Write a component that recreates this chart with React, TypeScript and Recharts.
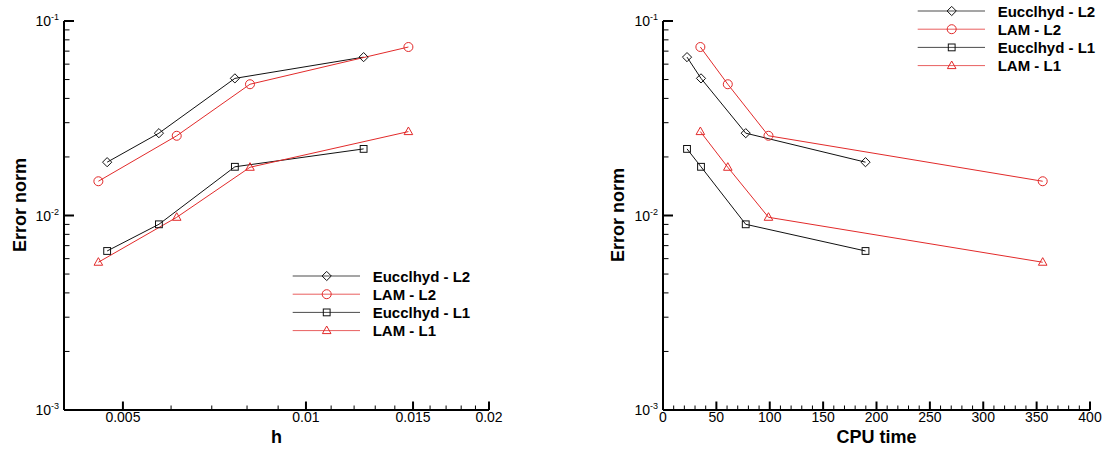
import React from 'react';
import { LineChart, Line, XAxis, YAxis, Legend } from 'recharts';

// Mesh sizes (coarse -> fine)
const hEucclhyd = [0.01244, 0.00764, 0.00573, 0.00471];
const hLAM = [0.01474, 0.00809, 0.00613, 0.004556];
// CPU time (coarse -> fine)
const cpuEucclhyd = [22.5, 35.6, 77.5, 189.7];
const cpuLAM = [35.0, 60.7, 98.8, 355.7];
// Error norms (coarse -> fine)
const eucclhydL2 = [0.0652, 0.0507, 0.0265, 0.0188];
const lamL2 = [0.0735, 0.0473, 0.0257, 0.015];
const eucclhydL1 = [0.022, 0.0178, 0.00901, 0.00657];
const lamL1 = [0.027, 0.0177, 0.00979, 0.00575];

const seriesNames = ['Eucclhyd - L2', 'LAM - L2', 'Eucclhyd - L1', 'LAM - L1'];
const seriesShapes = ['diamond', 'circle', 'square', 'triangle'];
const BLACK = '#111111';
const RED = '#e22a2a';
const seriesColors = [BLACK, RED, BLACK, RED];

const hMajorTicks = [0.005, 0.01, 0.015, 0.02];
const hMajorLabels = ['0.005', '0.01', '0.015', '0.02'];
const hMinorTicks = [0.006, 0.007, 0.008, 0.009, 0.011, 0.012, 0.013, 0.014, 0.016, 0.017, 0.018, 0.019];

const cpuMajorTicks = [0, 50, 100, 150, 200, 250, 300, 350, 400];
const cpuMajorLabels = ['0', '50', '100', '150', '200', '250', '300', '350', '400'];
const cpuMinorTicks = [10, 20, 30, 40, 60, 70, 80, 90, 110, 120, 130, 140, 160, 170, 180, 190, 210, 220, 230, 240, 260, 270, 280, 290, 310, 320, 330, 340, 360, 370, 380, 390];

const errMajorTicks = [0.001, 0.01, 0.1];
const errMajorExponents = ['-3', '-2', '-1'];
const errMinorTicks = [0.002, 0.003, 0.004, 0.005, 0.006, 0.007, 0.008, 0.009, 0.02, 0.03, 0.04, 0.05, 0.06, 0.07, 0.08, 0.09];

const FONT = '"Liberation Sans", Arial, Helvetica, sans-serif';

const toRows = (xs: number[], ys: number[]) => xs.map((x, i) => ({ x, y: ys[i] }));

const findIdx = (arr: number[], v: number) =>
  arr.findIndex((t) => Math.abs(t - v) <= Math.max(Math.abs(t), 1e-9) * 1e-6);

const Marker = ({ shape, cx, cy, color }: any) => {
  if (cx == null || cy == null) return null;
  const common = { fill: 'none', stroke: color, strokeWidth: 1 };
  if (shape === 'diamond') {
    const r = 4.6;
    return <polygon points={`${cx},${cy - r} ${cx + r},${cy} ${cx},${cy + r} ${cx - r},${cy}`} {...common} />;
  }
  if (shape === 'circle') return <circle cx={cx} cy={cy} r={4.5} {...common} />;
  if (shape === 'square') {
    const r = 3.4;
    return <rect x={cx - r} y={cy - r} width={2 * r} height={2 * r} {...common} />;
  }
  return <polygon points={`${cx},${cy - 4.6} ${cx + 4.3},${cy + 3} ${cx - 4.3},${cy + 3}`} {...common} />;
};

const makeDot = (shape: string, color: string) => (p: any) => (
  <Marker key={`dot-${shape}-${p.index}`} shape={shape} cx={p.cx} cy={p.cy} color={color} />
);

const YTick = (props: any) => {
  const { x, y, payload } = props;
  const idx = findIdx(errMajorTicks, payload.value);
  const major = idx >= 0;
  return (
    <g>
      <line x1={x} x2={x + (major ? 10 : 5.5)} y1={y} y2={y} stroke="#000" strokeWidth={major ? 2 : 1} />
      {major && (
        <text x={x - 5} y={y + 5} textAnchor="end" fontSize={14} fill="#000" fontFamily={FONT}>
          10
          <tspan dy={-6} fontSize={9}>{errMajorExponents[idx]}</tspan>
        </text>
      )}
    </g>
  );
};

const makeXTick = (majors: number[], labels: string[]) => (props: any) => {
  const { x, y, payload } = props;
  const idx = findIdx(majors, payload.value);
  const major = idx >= 0;
  return (
    <g>
      <line x1={x} x2={x} y1={y} y2={y - (major ? 8.5 : 4.5)} stroke="#000" strokeWidth={major ? 2 : 1} />
      {major && (
        <text x={x} y={y + 12} textAnchor="middle" fontSize={14} fill="#000" fontFamily={FONT}>
          {labels[idx]}
        </text>
      )}
    </g>
  );
};

const AxisTitle = ({ text, cx, cy, rotate }: any) => (
  <text
    transform={`translate(${cx},${cy})${rotate ? ' rotate(-90)' : ''}`}
    textAnchor="middle"
    dy="0.35em"
    fontSize={18}
    fontWeight="bold"
    fill="#000"
    fontFamily={FONT}
  >
    {text}
  </text>
);

const LegendBox = () => (
  <svg width={210} height={80} style={{ overflow: 'visible', display: 'block' }}>
    {seriesNames.map((name, i) => {
      const y = 10 + i * 18.2;
      return (
        <g key={name}>
          <line x1={7.7} x2={75} y1={y} y2={y} stroke={seriesColors[i]} strokeWidth={1} opacity={0.75} />
          <Marker shape={seriesShapes[i]} cx={41.7} cy={y} color={seriesColors[i]} />
          <text x={87.7} y={y + 5.5} fontSize={15} fontWeight="bold" fill="#000" fontFamily={FONT}>
            {name}
          </text>
        </g>
      );
    })}
  </svg>
);

const axisLineStyle = { stroke: '#000', strokeWidth: 2 };

const leftSeries = [
  toRows(hEucclhyd, eucclhydL2),
  toRows(hLAM, lamL2),
  toRows(hEucclhyd, eucclhydL1),
  toRows(hLAM, lamL1),
];
const rightSeries = [
  toRows(cpuEucclhyd, eucclhydL2),
  toRows(cpuLAM, lamL2),
  toRows(cpuEucclhyd, eucclhydL1),
  toRows(cpuLAM, lamL1),
];

const renderLines = (sets: any[]) =>
  sets.map((data, i) => (
    <Line
      key={seriesNames[i]}
      name={seriesNames[i]}
      data={data}
      dataKey="y"
      type="linear"
      stroke={seriesColors[i]}
      strokeWidth={1}
      dot={makeDot(seriesShapes[i], seriesColors[i])}
      activeDot={false}
      isAnimationActive={false}
    />
  ));

export default function App() {
  return (
    <div
      style={{
        position: 'absolute',
        left: 0,
        top: 0,
        width: 1106,
        height: 450,
        background: '#fff',
        fontFamily: FONT,
      }}
    >
      <div style={{ position: 'absolute', left: 0, top: 0 }}>
        <LineChart width={553} height={450} margin={{ top: 21, right: 64, bottom: 0, left: 0 }}>
          <XAxis
            type="number"
            dataKey="x"
            scale="log"
            domain={[0.004, 0.02]}
            allowDataOverflow
            ticks={[...hMajorTicks, ...hMinorTicks]}
            interval={0}
            tickSize={0}
            tickMargin={0}
            height={40}
            axisLine={axisLineStyle}
            tickLine={false}
            tick={makeXTick(hMajorTicks, hMajorLabels)}
            label={<AxisTitle text="h" cx={276.5} cy={437} />}
          />
          <YAxis
            type="number"
            scale="log"
            domain={[0.001, 0.1]}
            allowDataOverflow
            ticks={[...errMajorTicks, ...errMinorTicks]}
            interval={0}
            tickSize={0}
            tickMargin={0}
            width={64}
            axisLine={axisLineStyle}
            tickLine={false}
            tick={YTick}
            label={<AxisTitle text="Error norm" cx={19.5} cy={205} rotate />}
          />
          {renderLines(leftSeries)}
          <Legend
            content={() => <LegendBox />}
            layout="horizontal"
            verticalAlign="middle"
            align="center"
            wrapperStyle={{ left: 285, top: 266, width: 210 }}
          />
        </LineChart>
      </div>
      <div style={{ position: 'absolute', left: 553, top: 0 }}>
        <LineChart width={553} height={450} margin={{ top: 21, right: 16, bottom: 0, left: 0 }}>
          <XAxis
            type="number"
            dataKey="x"
            domain={[0, 400]}
            allowDataOverflow
            ticks={[...cpuMajorTicks, ...cpuMinorTicks]}
            interval={0}
            tickSize={0}
            tickMargin={0}
            height={40}
            axisLine={axisLineStyle}
            tickLine={false}
            tick={makeXTick(cpuMajorTicks, cpuMajorLabels)}
            label={<AxisTitle text="CPU time" cx={323.5} cy={437} />}
          />
          <YAxis
            type="number"
            scale="log"
            domain={[0.001, 0.1]}
            allowDataOverflow
            ticks={[...errMajorTicks, ...errMinorTicks]}
            interval={0}
            tickSize={0}
            tickMargin={0}
            width={110}
            axisLine={axisLineStyle}
            tickLine={false}
            tick={YTick}
            label={<AxisTitle text="Error norm" cx={64.5} cy={215} rotate />}
          />
          {renderLines(rightSeries)}
          <Legend
            content={() => <LegendBox />}
            layout="horizontal"
            verticalAlign="middle"
            align="center"
            wrapperStyle={{ left: 357.3, top: 0.7, width: 210 }}
          />
        </LineChart>
      </div>
    </div>
  );
}
